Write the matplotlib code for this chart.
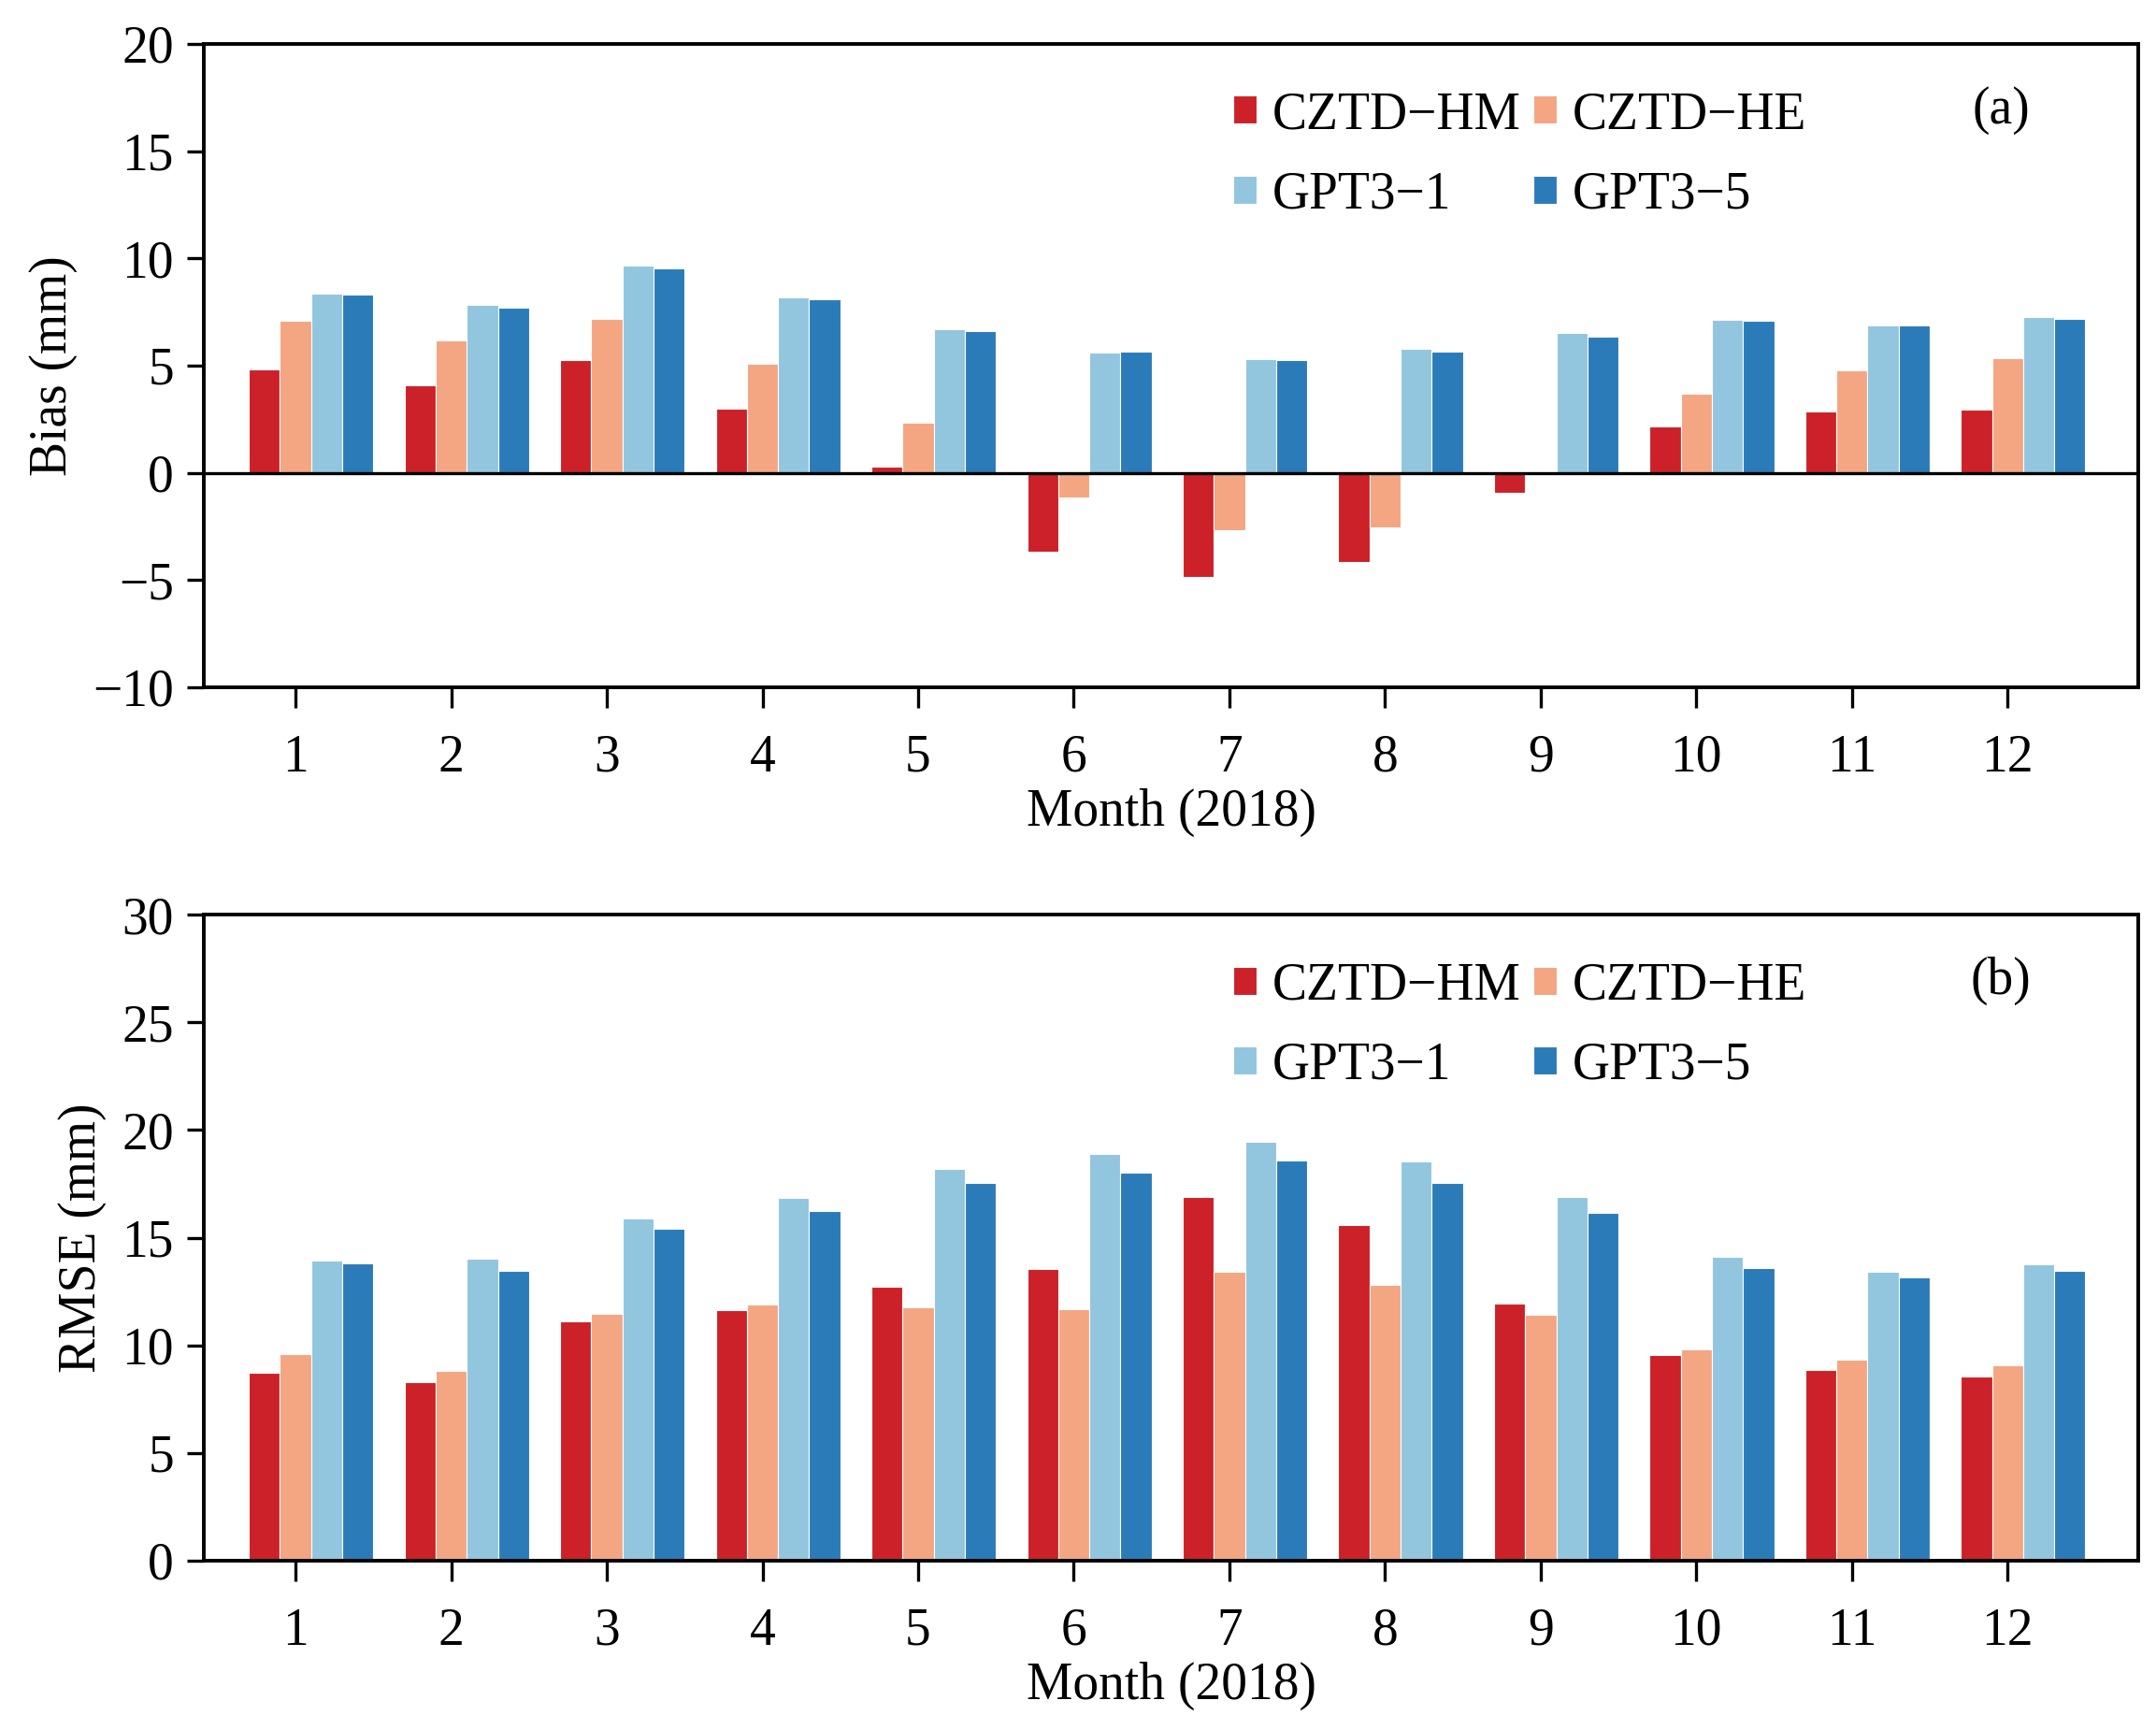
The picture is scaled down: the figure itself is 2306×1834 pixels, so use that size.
import matplotlib
matplotlib.use("Agg")
import matplotlib.pyplot as plt
import numpy as np

months = [1, 2, 3, 4, 5, 6, 7, 8, 9, 10, 11, 12]
series_names = ["CZTD\u2212HM", "CZTD\u2212HE", "GPT3\u22121", "GPT3\u22125"]
colors = ["#cc2128", "#f4a582", "#92c5de", "#2b7bb9"]

bias_hm = [4.82, 4.08, 5.24, 2.98, 0.27, -3.70, -4.86, -4.16, -0.95, 2.18, 2.85, 2.96]
bias_he = [7.08, 6.19, 7.18, 5.07, 2.32, -1.14, -2.68, -2.54, 0.0, 3.70, 4.80, 5.35]
bias_g1 = [8.37, 7.82, 9.68, 8.16, 6.68, 5.62, 5.28, 5.77, 6.51, 7.14, 6.89, 7.25]
bias_g5 = [8.30, 7.71, 9.55, 8.09, 6.61, 5.64, 5.24, 5.66, 6.36, 7.10, 6.89, 7.18]

rmse_hm = [8.72, 8.29, 11.10, 11.62, 12.71, 13.53, 16.91, 15.59, 11.94, 9.56, 8.87, 8.57]
rmse_he = [9.61, 8.82, 11.45, 11.89, 11.77, 11.67, 13.43, 12.81, 11.40, 9.81, 9.34, 9.06]
rmse_g1 = [13.93, 14.01, 15.87, 16.86, 18.20, 18.87, 19.44, 18.52, 16.89, 14.10, 13.43, 13.76]
rmse_g5 = [13.81, 13.48, 15.42, 16.24, 17.56, 18.03, 18.60, 17.56, 16.14, 13.61, 13.14, 13.48]

plt.rcParams['font.family'] = ['Liberation Serif', 'DejaVu Serif']
plt.rcParams['axes.unicode_minus'] = True

FS = 20

fig = plt.figure(figsize=(11.53, 9.17), dpi=200)
ax1 = fig.add_axes([0.0945, 0.5993, 0.8973, 0.3751])
ax2 = fig.add_axes([0.0945, 0.0900, 0.8973, 0.3767])

x = np.array(months, dtype=float)
offsets = [-0.2, 0.0, 0.2, 0.4]
width = 0.2

def draw(ax, data, ylim, yticks, ylabel, tag):
    handles = []
    for vals, off, c, name in zip(data, offsets, colors, series_names):
        b = ax.bar(x + off, vals, width=width, color=c, edgecolor='white',
                   linewidth=0.4, label=name, zorder=2)
        handles.append(b)
    ax.set_xlim(0.41, 12.84)
    ax.set_ylim(*ylim)
    ax.set_yticks(yticks)
    ax.set_xticks(months)
    ax.set_xticklabels([str(m) for m in months])
    ax.tick_params(axis='x', direction='out', length=8, width=1.2, pad=10,
                   labelsize=FS)
    ax.tick_params(axis='y', direction='out', length=6.5, width=1.2, pad=5,
                   labelsize=FS)
    for s in ax.spines.values():
        s.set_linewidth(1.4)
    ax.set_xlabel("Month (2018)", fontsize=FS, labelpad=2)
    ax.set_ylabel(ylabel, fontsize=FS, labelpad=6)
    order = [0, 2, 1, 3]
    ax.legend([handles[i] for i in order], [series_names[i] for i in order],
              ncol=2, loc='upper left', bbox_to_anchor=(0.532, 0.927),
              frameon=False, fontsize=FS, handlelength=0.45,
              handleheight=0.45, handletextpad=0.3, columnspacing=0.25,
              labelspacing=0.6, borderpad=0, borderaxespad=0)
    ax.text(0.929, 0.897, tag, transform=ax.transAxes, fontsize=FS,
            ha='center', va='center')

draw(ax1, [bias_hm, bias_he, bias_g1, bias_g5], (-10, 20),
     [-10, -5, 0, 5, 10, 15, 20], "Bias (mm)", "(a)")
ax1.axhline(0, color='black', linewidth=1.2, zorder=3)

draw(ax2, [rmse_hm, rmse_he, rmse_g1, rmse_g5], (0, 30),
     [0, 5, 10, 15, 20, 25, 30], "RMSE (mm)", "(b)")

fig.savefig("out.png", dpi=200, facecolor='white')
